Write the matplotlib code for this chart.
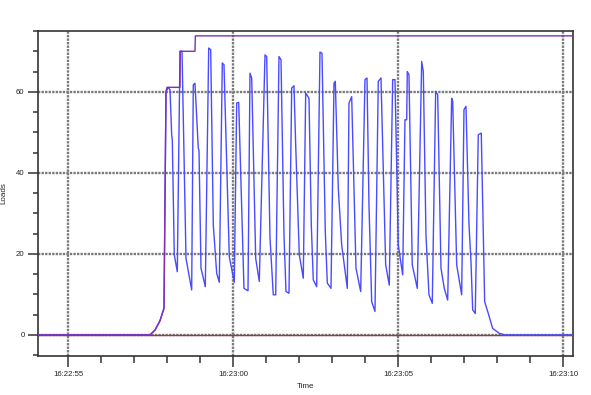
import matplotlib
matplotlib.use("Agg")
import matplotlib.pyplot as plt
from matplotlib.ticker import MultipleLocator, FixedLocator

# Time in seconds after 16:22:55
load_t = [-0.909, 2.485, 2.636, 2.788, 2.909, 2.970, 3.039, 3.091, 3.142, 3.161,
          3.221, 3.312, 3.394, 3.455, 3.576, 3.748, 3.797, 3.848, 3.948, 3.970,
          4.030, 4.161, 4.264, 4.324, 4.403, 4.506, 4.585, 4.676, 4.727, 4.888,
          5.039, 5.112, 5.173, 5.333, 5.455, 5.515, 5.567, 5.688, 5.797, 5.970,
          6.021, 6.121, 6.221, 6.294, 6.394, 6.455, 6.545, 6.606, 6.697, 6.779,
          6.848, 6.900, 7.009, 7.130, 7.203, 7.303, 7.373, 7.433, 7.536, 7.636,
          7.697, 7.797, 7.858, 7.970, 8.061, 8.100, 8.191, 8.294, 8.464, 8.515,
          8.597, 8.727, 8.870, 9.000, 9.061, 9.121, 9.203, 9.303, 9.403, 9.485,
          9.627, 9.736, 9.839, 9.909, 10.009, 10.142, 10.212, 10.264, 10.282, 10.333,
          10.433, 10.585, 10.718, 10.767, 10.848, 10.939, 11.039, 11.142, 11.203, 11.303,
          11.403, 11.506, 11.627, 11.658, 11.779, 11.930, 12.000, 12.061, 12.152, 12.212,
          12.264, 12.342, 12.433, 12.524, 12.627, 12.718, 12.870, 13.070, 13.242, 15.303]
load_v = [0, 0, 1.2, 3.5, 6.6, 60, 61.1, 60.5, 49.4, 48.1,
          19.8, 15.6, 70, 70, 18.9, 11.1, 61.7, 62.1, 46.1, 45.5,
          16.5, 11.9, 70.8, 70.4, 27.2, 15.2, 13, 67.1, 66.7, 19.3,
          13, 57.2, 57.4, 11.5, 10.9, 64.6, 63.4, 18.9, 13.2, 69.1,
          68.7, 24, 9.9, 9.9, 68.7, 67.9, 24.7, 10.7, 10.3, 60.9,
          61.5, 46.9, 19.8, 14, 59.7, 58.4, 27.2, 13.6, 11.9, 69.8,
          69.5, 25.5, 12.8, 11.5, 62.1, 62.6, 36.2, 22.2, 11.5, 57.2,
          58.8, 16.5, 10.7, 63, 63.4, 32.1, 8.2, 5.8, 62.6, 63.4,
          17.3, 12.3, 63, 63, 22.2, 14.8, 53.1, 53.1, 65, 64.2,
          17.3, 11.5, 67.5, 65, 24.7, 9.9, 7.8, 60.1, 59.3, 16.5,
          11.5, 8.6, 58.4, 57.6, 17.3, 9.9, 55.6, 56.4, 27.2, 18.1,
          6.2, 5.3, 49.4, 49.8, 8.2, 5.8, 1.6, 0.4, 0, 0]

max_t = [-0.909, 2.485, 2.636, 2.788, 2.909, 2.970, 3.0, 3.394, 3.40, 3.848, 3.86, 15.303]
max_v = [0, 0, 1.2, 3.5, 6.6, 60, 61.1, 61.1, 70, 70, 73.8, 73.8]

base_t = [-0.909, 15.303]
base_v = [0, 0]

tick_pos = [0, 5, 10, 15]
tick_labels = ["16:22:55", "16:23:00", "16:23:05", "16:23:10"]

fig = plt.figure(figsize=(5.91, 3.95), dpi=100)
ax = fig.add_axes([0.0643, 0.0987, 0.9052, 0.8228])

ax.plot(base_t, base_v, color="#9a3a3a", lw=1.0, zorder=3)
ax.plot(load_t, load_v, color="#4a4aff", lw=1.0, zorder=4)
ax.plot(max_t, max_v, color="#7f2fb5", lw=1.0, zorder=5)

ax.set_xlim(-0.909, 15.303)
ax.set_ylim(-5.2, 75)

ax.xaxis.set_major_locator(FixedLocator(tick_pos))
ax.set_xticklabels(tick_labels)
ax.xaxis.set_minor_locator(MultipleLocator(1))
ax.yaxis.set_major_locator(MultipleLocator(20))
ax.yaxis.set_minor_locator(MultipleLocator(5))

ax.grid(True, which="major", linestyle=(0, (1, 0.5)), color="#7a7a7a", linewidth=1.7, zorder=1)
ax.set_axisbelow(True)

for s in ax.spines.values():
    s.set_color("#333333")
    s.set_linewidth(1.2)

ax.tick_params(axis="y", which="major", direction="out", length=7.2, width=1.1,
               color="#333333", labelsize=5.6, pad=2.5)
ax.tick_params(axis="y", which="minor", direction="out", length=3.6, width=1.1,
               color="#333333")
ax.tick_params(axis="x", which="major", direction="out", length=8, width=1.1,
               color="#333333", labelsize=5.6, pad=2.5)
ax.tick_params(axis="x", which="minor", direction="out", length=4.7, width=1.1,
               color="#333333")

for lab in ax.get_xticklabels() + ax.get_yticklabels():
    lab.set_family("Liberation Sans")
    lab.set_color("#222222")

ax.set_xlabel("Time", fontsize=5.8, family="Liberation Sans", labelpad=4, color="#222222")
ax.set_ylabel("Loads", fontsize=5.8, family="Liberation Sans", labelpad=6, color="#222222")

fig.savefig("out.png", dpi=100)
